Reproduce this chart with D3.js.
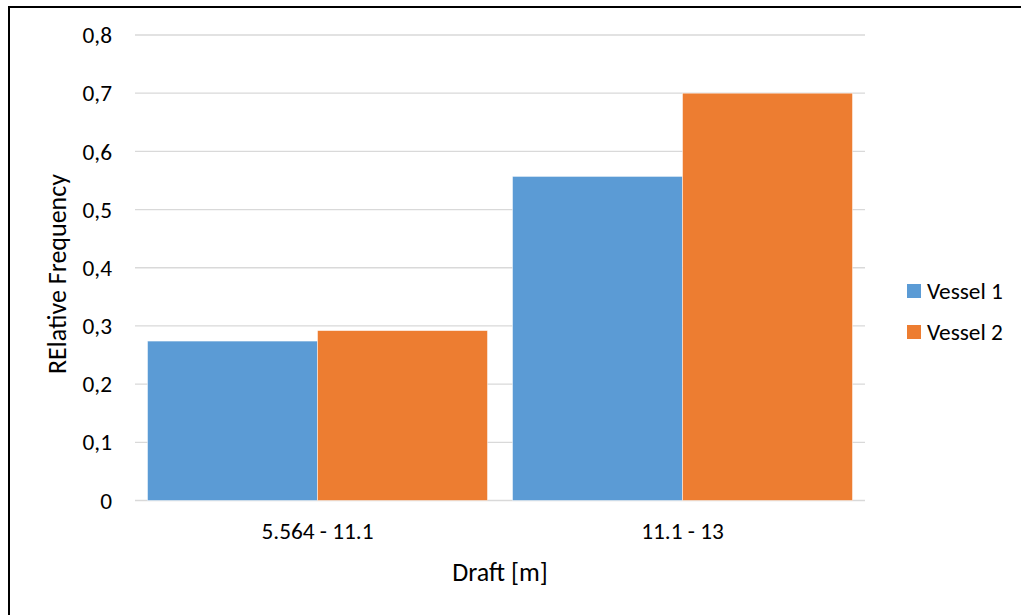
<!DOCTYPE html>
<html>
<head>
<meta charset="utf-8">
<script src="https://cdn.jsdelivr.net/npm/d3@7"></script>
<style>
  html, body { margin: 0; padding: 0; background: #fff; }
  svg { display: block; }
  text { font-family: Carlito, "Liberation Sans", "Open Sans", sans-serif; fill: #000; }
</style>
</head>
<body>
<svg id="chart" width="1021" height="615"></svg>
<script>
// Draft ranges and relative frequency per vessel
const categories = ["5.564 - 11.1", "11.1 - 13"];
const seriesNames = ["Vessel 1", "Vessel 2"];
const vessel1 = [0.274, 0.557];
const vessel2 = [0.292, 0.700];
const yTicks = [0, 0.1, 0.2, 0.3, 0.4, 0.5, 0.6, 0.7, 0.8];
const colors = ["#5B9BD5", "#ED7D31"];

const svg = d3.select("#chart");
const plot = { left: 135, right: 865, top: 35, bottom: 500.5 };

// outer frame (left and top edges)
svg.append("path")
  .attr("d", `M9,615 V7 H1021`)
  .attr("fill", "none").attr("stroke", "#000").attr("stroke-width", 2);

const x0 = d3.scaleBand().domain(categories).range([plot.left, plot.right]).paddingInner(0).paddingOuter(0);
const x1 = d3.scaleBand().domain(seriesNames).range([12.5, x0.bandwidth() - 12.5]);
const y = d3.scaleLinear().domain([0, 0.8]).range([plot.bottom, plot.top]);

// gridlines
svg.append("g").selectAll("line").data(yTicks).join("line")
  .attr("x1", plot.left).attr("x2", plot.right)
  .attr("y1", d => y(d)).attr("y2", d => y(d))
  .attr("stroke", "#D9D9D9").attr("stroke-width", 1.3);

// y tick labels
const fmt = d => d === 0 ? "0" : d3.format(".1f")(d).replace(".", ",");
svg.append("g").selectAll("text").data(yTicks).join("text")
  .attr("x", 112).attr("y", d => y(d)).attr("dy", "0.35em")
  .attr("text-anchor", "end").attr("font-size", 23.3).text(fmt);

// bars
const values = [vessel1, vessel2];
const groups = svg.append("g").selectAll("g").data(categories).join("g")
  .attr("transform", d => `translate(${x0(d)},0)`);
groups.selectAll("rect")
  .data((c, i) => seriesNames.map((s, k) => ({ s, k, v: values[k][i] })))
  .join("rect")
  .attr("x", d => x1(d.s)).attr("width", x1.bandwidth())
  .attr("y", d => y(d.v)).attr("height", d => y(0) - y(d.v))
  .attr("fill", d => colors[d.k])
  .attr("stroke", "#fff").attr("stroke-opacity", 0.6).attr("stroke-width", 0.8);

// x tick labels
svg.append("g").selectAll("text").data(categories).join("text")
  .attr("x", d => x0(d) + x0.bandwidth() / 2).attr("y", 539)
  .attr("text-anchor", "middle").attr("font-size", 23.3).text(d => d);

// axis titles
svg.append("text").attr("x", 500).attr("y", 581)
  .attr("text-anchor", "middle").attr("font-size", 26).text("Draft [m]");
svg.append("text")
  .attr("transform", "translate(66,274) rotate(-90)")
  .attr("text-anchor", "middle").attr("font-size", 26).text("RElative Frequency");

// legend
const legend = svg.append("g").selectAll("g").data(seriesNames).join("g")
  .attr("transform", (d, i) => `translate(907,${284 + i * 41})`);
legend.append("rect").attr("width", 14).attr("height", 14).attr("fill", (d, i) => colors[i]);
legend.append("text").attr("x", 20).attr("y", 7).attr("dy", "0.35em")
  .attr("font-size", 23.3).text(d => d);
</script>
</body>
</html>
